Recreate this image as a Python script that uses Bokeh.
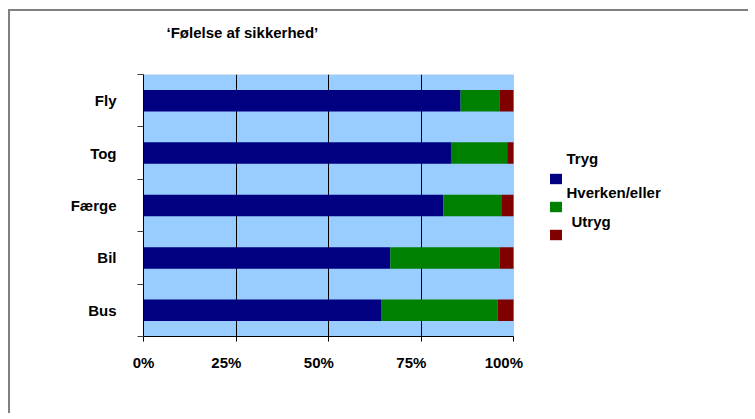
from bokeh.plotting import figure
from bokeh.models import (Range1d, FixedTicker, Legend, LegendItem, LinearAxis, Label,
                          BoxAnnotation, ColumnDataSource)
from bokeh.core.properties import value
from bokeh.embed import file_html
from bokeh.resources import INLINE

# ---- data ----
title_text = "‘Følelse af sikkerhed’"
categories = ["Fly", "Tog", "Færge", "Bil", "Bus"]
tryg = [85.7, 83.1, 81.0, 66.7, 64.2]
hverken = [10.5, 15.2, 15.7, 29.5, 31.5]
utryg = [3.8, 1.7, 3.3, 3.8, 4.3]
series_names = ["Tryg", "Hverken/eller", "Utryg"]
series_colors = ["#000080", "#008000", "#800000"]
x_ticks = [0, 25, 50, 75, 100]
x_tick_labels = ["0%", "25%", "50%", "75%", "100%"]

FONT = "Liberation Sans"
FS = "15px"
LABEL_SHIFT = 2.6  # tick labels sit slightly left of their ticks, as in the reference

n = len(categories)
ys = [n - i - 0.5 for i in range(n)]
bounds = list(range(n + 1))

series = [tryg, hverken, utryg]
lefts = []
rights = []
acc = [0.0] * n
for s in series:
    lefts.append(list(acc))
    acc = [a + v for a, v in zip(acc, s)]
    rights.append(list(acc))

W, H = 740, 404
ML, MT = 133, 63
PW, FH = 370, 262          # width of the plot area (0..100 %), frame height
FW = 555                   # frame also hosts the legend to the right
X_MAX = x_ticks[-1] * FW / PW

p = figure(width=W, height=H, output_backend="svg", toolbar_location=None,
           x_range=Range1d(x_ticks[0], X_MAX), y_range=Range1d(0, n),
           min_border_left=ML, min_border_top=MT,
           min_border_right=W - ML - FW, min_border_bottom=H - MT - FH)
p.styles = {"position": "relative", "left": "8px", "top": "9px",
            "border-top": "2px solid #808080", "border-left": "2px solid #808080"}
p.background_fill_color = "white"
p.border_fill_color = "white"
p.outline_line_color = None

xa = p.below[0]
ya = p.left[0]

# plot area
p.add_layout(BoxAnnotation(left=x_ticks[0], right=x_ticks[-1], bottom=0, top=n,
                           fill_color="#99CCFF", fill_alpha=1.0,
                           line_color="#808080", line_width=1, level="image"))

renderers = []
for k in range(3):
    src = ColumnDataSource(dict(y=ys, left=lefts[k], right=rights[k], cat=categories))
    r = p.hbar(y="y", left="left", right="right", height=0.41, source=src,
               fill_color=series_colors[k], line_color=None)
    renderers.append(r)

# x axis (line + ticks)
xa.bounds = (x_ticks[0], x_ticks[-1])
xa.ticker = FixedTicker(ticks=x_ticks, minor_ticks=[])
xa.major_label_overrides = {t: "" for t in x_ticks}
xa.major_label_text_font_size = "0px"
xa.major_label_standoff = 0
xa.axis_line_color = "black"
xa.major_tick_line_color = "black"
xa.major_tick_out = 5
xa.major_tick_in = 0
xa.minor_tick_line_color = None

# x axis labels
shifted = [max(t - LABEL_SHIFT, x_ticks[0]) for t in x_ticks]
xl = LinearAxis(ticker=FixedTicker(ticks=shifted, minor_ticks=[]),
                major_label_overrides={s: l for s, l in zip(shifted, x_tick_labels)},
                axis_line_color=None, major_tick_line_color=None, minor_tick_line_color=None,
                major_tick_out=0, major_tick_in=0, major_label_standoff=12,
                major_label_text_font=FONT, major_label_text_font_style="bold",
                major_label_text_font_size=FS, major_label_text_color="black")
p.add_layout(xl, "below")

# y axis
ya.ticker = FixedTicker(ticks=ys, minor_ticks=bounds)
ya.major_label_overrides = {y: c for y, c in zip(ys, categories)}
ya.axis_line_color = "black"
ya.major_tick_out = 0
ya.major_tick_in = 0
ya.major_tick_line_color = None
ya.minor_tick_out = 6
ya.minor_tick_in = 0
ya.minor_tick_line_color = "#404040"
ya.major_label_standoff = 21
ya.major_label_text_font = FONT
ya.major_label_text_font_style = "bold"
ya.major_label_text_font_size = FS
ya.major_label_text_color = "black"

# grid
p.xgrid.ticker = FixedTicker(ticks=x_ticks[1:-1])
p.xgrid.grid_line_color = "black"
p.xgrid.grid_line_width = 1
p.ygrid.visible = False

# title, lifted away from the plot area by an invisible spacer axis
p.title.text = title_text
p.title.align = "left"
p.title.vertical_align = "top"
p.title.offset = 23
p.title.standoff = 0
p.title.text_font = FONT
p.title.text_font_style = "bold"
p.title.text_font_size = FS
p.title.text_color = "black"

spacer = LinearAxis(ticker=FixedTicker(ticks=x_ticks, minor_ticks=[]), axis_line_color=None,
                    major_tick_line_color=None, minor_tick_line_color=None,
                    major_tick_out=32, major_tick_in=0, minor_tick_out=0, minor_tick_in=0,
                    major_label_overrides={t: "" for t in x_ticks},
                    major_label_standoff=0, major_label_text_font_size="0px")
p.above = [spacer] + list(p.above)

# legend swatches
legend = Legend(items=[LegendItem(label=value(""), renderers=[r]) for r in renderers],
                location=(405, 95), orientation="vertical",
                glyph_width=15, glyph_height=13, spacing=15, padding=0, margin=0,
                label_standoff=0, label_width=0, label_height=0,
                label_text_font_size="1px",
                border_line_color=None, background_fill_alpha=0)
p.add_layout(legend, "center")

# legend texts (placed above their swatches, as in the reference)
legend_text_pos = [(423, 178), (423, 144), (428, 115)]
for nm, (lx, ly) in zip(series_names, legend_text_pos):
    p.add_layout(Label(x=lx, y=ly, x_units="screen", y_units="screen", text=nm,
                       text_font=FONT, text_font_style="bold", text_font_size=FS,
                       text_baseline="middle", text_align="left", text_color="black"))

open("out.html", "w").write(file_html(p, INLINE))
